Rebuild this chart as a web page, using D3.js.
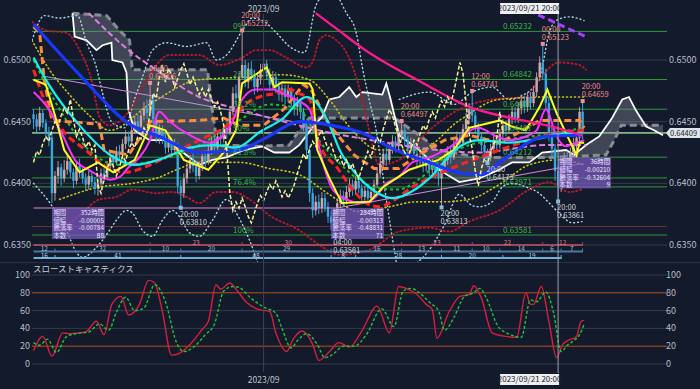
<!DOCTYPE html>
<html>
<head>
<meta charset="utf-8">
<script src="https://cdn.jsdelivr.net/npm/d3@7"></script>
<style>
  body { margin: 0; background: #121a2b; }
  svg { display: block; }
</style>
</head>
<body>
<div id="chart"></div>
<script>
// ---- candles (4h, AUD/USD style) ----
const firstOpen = 0.6456
const closes = [
  0.6452,0.6446,0.6457,0.6449,0.6441,0.6437,0.6392,0.6406,0.6413,0.6404,
  0.6411,0.6418,0.6409,0.6402,0.6414,0.6410,0.6404,0.6399,0.6406,0.6401,
  0.6396,0.6400,0.6408,0.6405,0.6414,0.6421,0.6417,0.6426,0.6423,0.6432,
  0.6438,0.6434,0.6443,0.6450,0.6446,0.6455,0.6461,0.6457,0.6468,0.6452,
  0.6438,0.6444,0.6437,0.6429,0.6434,0.6427,0.6431,0.6398,0.6392,0.6404,
  0.6412,0.6419,0.6414,0.6406,0.6413,0.6422,0.6418,0.6427,0.6433,0.6429,
  0.6438,0.6436,0.6445,0.6441,0.6458,0.6473,0.6469,0.6486,0.6496,0.6482,
  0.6493,0.6488,0.6478,0.6485,0.6492,0.6497,0.6489,0.6480,0.6486,0.6479,
  0.6472,0.6477,0.6470,0.6476,0.6468,0.6462,0.6466,0.6458,0.6447,0.6427,
  0.6392,0.6378,0.6385,0.6380,0.6388,0.6381,0.6373,0.6368,0.6376,0.6384,
  0.6390,0.6386,0.6393,0.6399,0.6395,0.6402,0.6396,0.6389,0.6394,0.6388,
  0.6393,0.6399,0.6408,0.6416,0.6424,0.6419,0.6428,0.6434,0.6430,0.6439,
  0.6443,0.6435,0.6428,0.6432,0.6424,0.6418,0.6422,0.6414,0.6419,0.6411,
  0.6416,0.6409,0.6404,0.6412,0.6419,0.6426,0.6421,0.6431,0.6437,0.6433,
  0.6444,0.6452,0.6460,0.6455,0.6446,0.6438,0.6431,0.6425,0.6421,0.6428,
  0.6435,0.6431,0.6440,0.6447,0.6443,0.6452,0.6458,0.6453,0.6461,0.6467,
  0.6462,0.6470,0.6465,0.6474,0.6486,0.6498,0.6489,0.6465,0.6440,0.6428,
  0.6410,0.6398,0.6412,0.6420,0.6416,0.6425,0.6432,0.6437,0.6458,0.64409
]
const highs = [
  0.6460,0.6456,0.6462,0.6460,0.6452,0.6446,0.6440,0.6410,0.6418,0.6416,
  0.6419,0.6424,0.6421,0.6412,0.6417,0.6420,0.6414,0.6408,0.6410,0.6409,
  0.6405,0.6403,0.6412,0.6413,0.6418,0.6425,0.6426,0.6430,0.6431,0.6436,
  0.6443,0.6442,0.6448,0.6455,0.6456,0.6460,0.6466,0.6468,0.64806,0.6471,
  0.6455,0.6448,0.6447,0.6440,0.6439,0.6437,0.6436,0.6433,0.6403,0.6408,
  0.6417,0.6423,0.6424,0.6418,0.6417,0.6426,0.6427,0.6431,0.6438,0.6438,
  0.6443,0.6444,0.6449,0.6450,0.6462,0.6478,0.6480,0.6490,0.65232,0.6500,
  0.6498,0.6499,0.6492,0.6490,0.6497,0.6502,0.6500,0.6493,0.6491,0.6490,
  0.6483,0.6481,0.6480,0.6480,0.6478,0.6472,0.6470,0.6468,0.6461,0.6450,
  0.6430,0.6396,0.6390,0.6391,0.6393,0.6392,0.6385,0.6378,0.6380,0.6388,
  0.6395,0.6394,0.6398,0.6404,0.6403,0.6406,0.6405,0.6399,0.6398,0.6397,
  0.6397,0.6403,0.6412,0.6421,0.6428,0.6429,0.6433,0.6439,0.6438,0.6443,
  0.64497,0.6446,0.6438,0.6437,0.6434,0.6428,0.6426,0.6424,0.6423,0.6421,
  0.6420,0.6419,0.6413,0.6416,0.6424,0.6430,0.6430,0.6435,0.6442,0.6441,
  0.6448,0.6457,0.6465,0.64741,0.6458,0.6449,0.6441,0.6434,0.6428,0.6432,
  0.6439,0.6439,0.6444,0.6452,0.6451,0.6456,0.6462,0.6462,0.6466,0.6472,
  0.6471,0.6474,0.6474,0.6479,0.6490,0.6503,0.65123,0.6493,0.6470,0.6445,
  0.6432,0.6415,0.6416,0.6425,0.6426,0.6429,0.6437,0.6441,0.6462,0.64659
]
const lows = [
  0.6444,0.6440,0.6443,0.6445,0.6436,0.6430,0.6384,0.6386,0.6400,0.6398,
  0.6401,0.6407,0.6404,0.6396,0.6399,0.6405,0.6400,0.6394,0.6395,0.6397,
  0.6391,0.6390,0.6397,0.6401,0.6403,0.6410,0.6412,0.6415,0.6418,0.6420,
  0.6428,0.6430,0.6431,0.6440,0.6441,0.6444,0.6451,0.6452,0.6455,0.6448,
  0.6433,0.6432,0.6432,0.6424,0.6425,0.6422,0.6423,0.6392,0.63810,0.6388,
  0.6400,0.6408,0.6409,0.6401,0.6403,0.6410,0.6413,0.6415,0.6423,0.6424,
  0.6426,0.6430,0.6433,0.6436,0.6439,0.6455,0.6463,0.6466,0.6484,0.6478,
  0.6477,0.6483,0.6472,0.6474,0.6480,0.6487,0.6484,0.6475,0.6476,0.6473,
  0.6467,0.6466,0.6464,0.6466,0.6462,0.6455,0.6455,0.6452,0.6442,0.6420,
  0.6385,0.6372,0.6374,0.6375,0.6376,0.6377,0.6368,0.6362,0.63581,0.6372,
  0.6380,0.6381,0.6383,0.6389,0.6390,0.6391,0.6392,0.6384,0.6385,0.6383,
  0.6384,0.6389,0.6396,0.6405,0.6413,0.6414,0.6417,0.6424,0.6425,0.6427,
  0.6434,0.6430,0.6423,0.6424,0.6419,0.6412,0.6413,0.6409,0.6410,0.6406,
  0.6407,0.6404,0.6398,0.63813,0.6408,0.6415,0.6416,0.6419,0.6427,0.6428,
  0.6431,0.6440,0.6448,0.6450,0.6441,0.6433,0.6426,0.6419,0.64173,0.6418,
  0.6424,0.6426,0.6428,0.6436,0.6438,0.6440,0.6448,0.6449,0.6449,0.6456,
  0.6457,0.6458,0.6460,0.6462,0.6470,0.6483,0.6484,0.6460,0.6434,0.6421,
  0.6402,0.63861,0.6393,0.6408,0.6411,0.6413,0.6421,0.6424,0.6433,0.6436
]

// ---- indicator lines, [bar index, price] ----
const maBlue = [[0,0.6529],[15,0.6488],[32,0.6447],[41,0.6438],[54,0.6425],[67,0.6427],[75,0.6436],[87,0.6450],[97,0.6447],[107,0.6441],[118,0.6427],[129,0.6417],[140,0.6408],[146,0.6407],[153,0.6419],[167,0.6438],[179,0.6439]]
const maCyan = [[0,0.6502],[5,0.6480],[15,0.6447],[25,0.6423],[33,0.6415],[43,0.6421],[51,0.6429],[59,0.6431],[66,0.6429],[74,0.6442],[81,0.6452],[89,0.6470],[92,0.6466],[96,0.6450],[100,0.6426],[105,0.6408],[111,0.6394],[117,0.6388],[125,0.6396],[129,0.6404],[139,0.6430],[145,0.6435],[155,0.6433],[166,0.6437],[171,0.6440],[179,0.6441]]
const tenkan = [[0,0.6484],[4,0.6480],[7,0.6455],[10,0.6427],[15,0.6409],[21,0.6417],[26,0.6409],[33,0.6419],[38,0.6447],[43,0.6443],[49,0.6419],[57,0.6411],[62,0.6425],[66,0.6443],[68,0.6481],[73.5,0.6490],[76,0.6494],[78.5,0.6478],[81,0.6482],[90,0.6481],[91,0.6476],[92.5,0.6427],[96.5,0.6404],[100.5,0.6384],[109.5,0.6385],[114,0.6397],[122.5,0.6411],[132,0.6419],[137,0.6427],[142,0.6445],[152,0.6451],[156,0.6446],[160.5,0.6443],[165,0.6462],[167.5,0.6476],[170.5,0.6457],[173.5,0.6441],[177,0.6423],[178,0.6433],[179.5,0.6433]]
const kijun = [[0,0.6527],[2,0.6522],[3.5,0.6484],[6,0.6451],[21.5,0.6448],[23,0.6427],[31,0.6423],[35.5,0.6440],[38,0.6450],[54,0.6451],[62,0.6453],[67,0.6447],[75,0.6447],[82,0.6461],[88,0.6480],[90.5,0.6476],[96.5,0.6447],[104.5,0.6423],[111,0.6412],[119,0.6412],[125.5,0.6423],[134,0.6435],[142,0.6439],[152,0.6433],[158,0.6441],[165,0.6451],[178,0.6451],[179.5,0.6445]]
const maMagenta = [[0,0.6474],[5,0.6460],[9.5,0.6439],[13.5,0.6419],[18,0.6411],[25,0.6403],[28,0.6405],[31,0.6413],[34.5,0.6421],[38,0.6435],[41,0.6458],[44,0.6451],[51,0.6439],[57,0.6433],[64,0.6446],[68,0.6468],[72.5,0.6476],[78,0.6476],[81,0.6473],[85.5,0.6468],[90,0.6460],[92.5,0.6435],[95,0.6411],[97.5,0.6395],[102,0.6387],[107,0.6384],[111.5,0.6389],[115,0.6400],[119,0.6405],[123.5,0.6417],[129,0.6421],[135.5,0.6429],[145,0.6445],[151,0.6438],[155,0.6435],[160.5,0.6438],[164,0.6443],[167,0.6460],[170.5,0.6438],[173.5,0.6430],[177,0.6433],[179.5,0.6435]]
const maRed = [[0,0.6492],[4,0.6465],[9.5,0.6443],[17,0.6427],[24,0.6413],[30,0.6409],[38,0.6415],[46,0.6425],[54,0.6435],[63,0.6447],[69.5,0.6465],[73.5,0.6470],[79,0.6473],[83.5,0.6476],[86.5,0.6473],[90,0.6468],[93,0.6433],[99.5,0.6411],[104,0.6395],[108.5,0.6384],[112.5,0.6381],[116,0.6384],[119,0.6389],[123.5,0.6397],[128,0.6403],[139,0.6415],[152,0.6427],[161.5,0.6435],[171,0.6441],[179.5,0.6443]]
const maGreen = [[0,0.6500],[8.5,0.6460],[18,0.6427],[28,0.6415],[41,0.6419],[54,0.6431],[67,0.6451],[77,0.6464],[86.5,0.6460],[93,0.6435],[99.5,0.6417],[106,0.6403],[112.5,0.6396],[119,0.6395],[125.5,0.6403],[132,0.6417],[142,0.6431],[152,0.6435],[165,0.6439],[179.5,0.6445]]
const maViolet = [[18,0.6538],[32,0.6506],[40,0.6492],[54,0.6470],[67,0.6460],[86.5,0.6447],[96.5,0.6441],[110.5,0.6435],[125,0.6429],[145,0.6425],[167,0.6431],[180,0.6431]]
const trendPink = [[92,0.6538],[99.5,0.6524],[107,0.6510],[116,0.6496],[125,0.6484],[133,0.6473],[142,0.6462],[152,0.6455],[161.5,0.6450],[170.5,0.6445],[179,0.6439]]
const trendPurple = [[158,0.6544],[180,0.6519]]
const trendLavender = [[3,0.6487],[87,0.6449]]
const supportLine = [[0,0.6380],[99,0.6380],[179,0.6416]]

// ichimoku leading spans
const spanA = [[12.7,0.6538],[13.4,0.6519],[17.3,0.6516],[20.5,0.6508],[22.5,0.6512],[25.4,0.6514],[25.7,0.6500],[29,0.6498],[30.3,0.6490],[30.9,0.6460],[32.9,0.6443],[37.8,0.6435],[44.3,0.6435],[47.6,0.6427],[54.1,0.6415],[58.3,0.6419],[62.9,0.6421],[68.7,0.6427],[74.6,0.6430],[78.5,0.6425],[83.4,0.6425],[86.6,0.6431],[91.5,0.6447],[94.1,0.6454],[96.4,0.6468],[99.7,0.6470],[102.9,0.6478],[105.2,0.6470],[107.2,0.6474],[113.7,0.6472],[115,0.6481],[116.3,0.6469],[119.2,0.6439],[125.7,0.6427],[132.2,0.6411],[138.8,0.6401],[145.3,0.6404],[151.8,0.6411],[156,0.6417],[161.6,0.6417],[165.8,0.6425],[173.6,0.6427],[176.2,0.6423],[180.1,0.6431],[184.4,0.6438],[188.6,0.6453],[191.9,0.6468],[194.1,0.6470],[196.4,0.6459],[199.7,0.6446],[202.3,0.6443],[205.2,0.6439]]
const spanB = [[12.7,0.6538],[23.8,0.6536],[28,0.6524],[31.3,0.6516],[32.2,0.6492],[56.7,0.6492],[58,0.6464],[59.9,0.6431],[73.6,0.6430],[83.4,0.6431],[86.6,0.6443],[89.9,0.6453],[117.6,0.6453],[125.7,0.6439],[132.2,0.6427],[145.3,0.6421],[158.3,0.6421],[168.1,0.6421],[186.6,0.6423],[189.3,0.6435],[191.6,0.6447],[205.2,0.6447]]

// band-style dotted lines
const bandBlueUpper = [[-0.5,0.6516],[3.6,0.6536],[8.5,0.6534],[14.3,0.6536],[17.3,0.6514],[20.5,0.6494],[22.5,0.6473],[25.7,0.6449],[29.6,0.6445],[32.9,0.6468],[35.5,0.6486],[38.8,0.6508],[43.3,0.6514],[49.8,0.6511],[56.4,0.6514],[59.6,0.6500],[62.9,0.6504],[68.1,0.6524],[71.3,0.6534],[74.6,0.6532],[79.2,0.6522],[83.4,0.6511],[88.3,0.6506],[92.2,0.6545],[97,0.6557],[102,0.6538],[105.2,0.6522],[107.2,0.6494],[109.4,0.6468],[111.7,0.6443],[115,0.6387],[117.6,0.6346],[119.2,0.6322]]
const bandBlueUpper2 = [[119.2,0.6468],[129,0.6474],[137.1,0.6464],[143,0.6474],[149.5,0.6478],[155,0.6468],[158.3,0.6470],[164.8,0.6484],[165.8,0.6494],[168.1,0.6522],[170.4,0.6532],[174.6,0.6535],[179.5,0.6532]]
const bandBlueLower = [[0,0.6400],[6.2,0.6381],[10.7,0.6362],[14,0.6344],[16,0.6340],[20.5,0.6348],[24.8,0.6362],[27,0.6370],[30.3,0.6378],[32.2,0.6376],[35.5,0.6362],[38.8,0.6357],[42,0.6370],[45.3,0.6378],[47.6,0.6373],[50.8,0.6360],[54,0.6357],[58.3,0.6370],[62.9,0.6387],[66.1,0.6376],[70.4,0.6354],[74.3,0.6330],[95,0.6300],[119.2,0.6326],[129,0.6346],[133.9,0.6366],[138.8,0.6391],[143,0.6382],[145.3,0.6381],[149.5,0.6385],[152.8,0.6397],[156,0.6400],[160.6,0.6397],[164.8,0.6392],[168.1,0.6384],[171.3,0.6376],[175.6,0.6368],[178.8,0.6369]]
const bandRedUpper = [[-0.5,0.6531],[4.2,0.6524],[10.7,0.6522],[15,0.6508],[19.2,0.6481],[21.5,0.6454],[24.8,0.6447],[31.3,0.6459],[37.8,0.6488],[44.3,0.6504],[54,0.6504],[60.6,0.6496],[68.1,0.6502],[72.6,0.6508],[76.9,0.6508],[82.4,0.6502],[88.9,0.6494],[90.9,0.6498],[93.2,0.6516],[95.4,0.6520],[98.7,0.6516],[102,0.6506],[105.2,0.6486],[107.2,0.6468],[109.4,0.6443],[112.7,0.6415],[119.2,0.6419],[129,0.6443],[138.8,0.6460],[149.5,0.6468],[160.6,0.6470],[164.8,0.6484],[171.3,0.6498],[177.9,0.6496],[180.1,0.6492]]
const bandRedLower = [[8.5,0.6362],[15,0.6374],[21.5,0.6387],[27,0.6389],[32.2,0.6395],[40,0.6392],[45.3,0.6393],[49.8,0.6389],[54,0.6384],[59.6,0.6393],[64.8,0.6393],[70.4,0.6387],[76.9,0.6374],[86.6,0.6362],[93.2,0.6350],[99.7,0.6342],[109.4,0.6346],[119.2,0.6361],[129,0.6364],[135.5,0.6361],[142,0.6369],[151.8,0.6378],[161.6,0.6395],[168.1,0.6401],[174.6,0.6393],[178.8,0.6395]]
const bandOliveUpper = [[-0.5,0.6516],[5.2,0.6492],[11.7,0.6472],[18.2,0.6455],[24.8,0.6443],[37.8,0.6464],[54,0.6484],[68.1,0.6486],[81.1,0.6488],[89.9,0.6484],[96.4,0.6468],[102.9,0.6446],[112.7,0.6427],[125.7,0.6427],[138.8,0.6451],[151.8,0.6468],[168.1,0.6470],[179.5,0.6470]]
const bandOliveLower = [[8.5,0.6387],[21.5,0.6397],[32.2,0.6400],[41,0.6405],[46.6,0.6411],[54,0.6417],[67.1,0.6417],[76.9,0.6412],[86.6,0.6407],[96.4,0.6391],[106.2,0.6377],[116,0.6381],[124.8,0.6385],[133.2,0.6385],[142,0.6387],[151.8,0.6399],[161.6,0.6415],[171.3,0.6419],[179.5,0.6415]]

// fibonacci levels
const fibLevels = [0.65232, 0.64842, 0.64601, 0.64407, 0.64212, 0.63971, 0.63581]
const fibNames = ["0%", "23.6%", "38.2%", "50%", "61.8%", "76.4%", "100%"]
const extraGreen = [0.64044]
const darkRedLevel = 0.6365
const lastPrice = 0.64409

// zigzag pivots
const pivotHighIdx = [38, 68, 120, 143, 166, 179]
const pivotHighTime = ["08:00", "20:00", "20:00", "12:00", "00:00", "20:00"]
const pivotLowIdx = [48, 98, 133, 148, 171]
const pivotLowTime = ["20:00", "04:00", "20:00", "20:00", "20:00"]

// wave count rows [start bar, end bar, label]
const waveRow1 = [[0,38,""],[38,68,"23"],[68,98,"30"],[98,120,""],[120,143,"23"],[143,166,"22"],[166,179,"12"]]
const waveRow2 = [[0,7,"12"],[7,38,"32"],[38,48,"10"],[48,68,"20"],[68,97,"29"],[97,104,""],[104,120,"16"],[120,133,"13"],[133,143,"11"],[143,152,"10"],[152,166,"14"],[166,172,"6"],[172,179,"7"]]
const waveRow3 = [[0,7,"16"],[7,48,"41"],[48,97,"48"],[97,105,"8"],[105,133,"28"],[133,153,"20"],[153,172,"19"]]

// measurement boxes
const boxIdx = [6, 97, 171]
const boxTop = [0.6380, 0.6380, 0.6421]
const boxKeys = ["期間", "値幅", "騰落率", "本数"]
const boxPeriod = ["352時間", "284時間", "36時間"]
const boxRange = ["-0.00005", "-0.00313", "-0.00210"]
const boxRate = ["-0.00784", "-0.48831", "-0.32604"]
const boxBars = ["88", "71", "9"]

// slow stochastics [bar index, value]
const stochK = [[0,15],[3,31],[6,9],[9.5,35],[11.5,34],[17,36],[20.5,48],[23,33],[25.5,67],[28.5,76],[31,55],[34.5,67],[37.5,94],[39.5,91],[42,59],[45,10],[47.5,12],[51,22],[55,39],[57,48],[59.5,89],[61,84],[64,91],[66,84],[69.5,69],[73.5,61],[77,59],[79,35],[82.5,14],[84.5,27],[87.5,37],[91,22],[93,4],[96.5,14],[99.5,24],[103,19],[107,37],[112,65],[116,35],[119,87],[121.5,85],[125,78],[128,67],[130,61],[131.5,29],[135.5,59],[139,76],[142,78],[143.5,88],[146,74],[149.5,35],[154,31],[157.5,30],[160.5,80],[162,67],[163,67],[165.5,87],[168,48],[170.5,7],[172.5,22],[174,26],[177,31],[178.5,48],[179.5,49]]
const stochD = [[0,24],[2,21],[4.5,28],[7.5,13],[10.5,30],[13.5,34],[18,36],[21.5,45],[24.5,38],[27,58],[30,75],[33,60],[36,63],[39.5,89],[43,70],[46.5,25],[49,14],[52.5,20],[56,33],[59,45],[62,82],[65,87],[67,86],[70.5,75],[75,64],[79,57],[81,40],[84,18],[86,26],[89,34],[92.5,22],[95,7],[98,12],[101,20],[104.5,20],[108.5,33],[113.5,62],[117.5,42],[120.5,82],[123,85],[126.5,78],[129.5,68],[132,60],[134,38],[137,52],[140.5,76],[143.5,80],[145.5,85],[147.5,75],[151.5,42],[155.5,33],[159,30],[162,72],[164,70],[167,81],[169.5,58],[172,14],[174,21],[176,26],[178,33],[179.5,45]]

const priceTicks = [0.635, 0.640, 0.645, 0.650]
const stochTicks = [0, 20, 40, 60, 80, 100]
const monthIdx = 75
const monthLabel = "2023/09"
const cursorIdx = 171
const cursorLabel = "2023/09/21 20:00"
const panelTitle = "スローストキャスティクス"

// ---------------------------------------------------------------
const W = 700, H = 389
const font = '"Noto Sans CJK JP", "Noto Sans", sans-serif'
const svg = d3.select("#chart").append("svg").attr("width", W).attr("height", H)
  .style("font-family", font)
svg.append("rect").attr("width", W).attr("height", H).attr("fill", "#121a2b")

const x = d3.scaleLinear().domain([-0.5, 206.5]).range([32, 667])
const y = d3.scaleLinear().domain([0.635, 0.650]).range([245, 60])
const ys = d3.scaleLinear().domain([0, 100]).range([364, 275])

const defs = svg.append("defs")
defs.append("clipPath").attr("id", "clipMain").append("rect")
  .attr("x", 32).attr("y", 0).attr("width", 635).attr("height", 262)
defs.append("clipPath").attr("id", "clipSub").append("rect")
  .attr("x", 32).attr("y", 263).attr("width", 635).attr("height", 108)

const g = svg.append("g").attr("clip-path", "url(#clipMain)")
const gs = svg.append("g").attr("clip-path", "url(#clipSub)")

// grid
priceTicks.forEach(p => {
  g.append("line").attr("x1", 32).attr("x2", 667).attr("y1", y(p)).attr("y2", y(p))
    .attr("stroke", "#343c4d").attr("stroke-width", 1)
})
svg.append("line").attr("x1", 0).attr("x2", W).attr("y1", 262.5).attr("y2", 262.5)
  .attr("stroke", "#2b3343")
svg.append("line").attr("x1", x(monthIdx)).attr("x2", x(monthIdx)).attr("y1", 14).attr("y2", 372)
  .attr("stroke", "#3a4254")

// horizontal levels
fibLevels.concat(extraGreen).forEach(p => {
  g.append("line").attr("x1", 32).attr("x2", 667).attr("y1", y(p)).attr("y2", y(p))
    .attr("stroke", "#2f9a3a").attr("stroke-width", 1)
})
g.append("line").attr("x1", 32).attr("x2", 667).attr("y1", y(darkRedLevel)).attr("y2", y(darkRedLevel))
  .attr("stroke", "#6a2c36")
g.append("line").attr("x1", 32).attr("x2", 667).attr("y1", y(lastPrice)).attr("y2", y(lastPrice))
  .attr("stroke", "#cfe8c8").attr("stroke-width", 1)

const pline = (curve) => d3.line().x(d => x(d[0])).y(d => y(d[1])).curve(curve || d3.curveMonotoneX)

function drawLine(target, data, color, width, dash, curve) {
  const p = target.append("path").datum(data)
    .attr("fill", "none").attr("stroke", color).attr("stroke-width", width)
    .attr("d", pline(curve))
  if (dash) p.attr("stroke-dasharray", dash)
  if (dash === "1,3") p.attr("stroke-linecap", "round")
  return p
}

// cloud
const cloudPts = spanA.concat(spanB.slice().reverse())
g.append("path").attr("d", pline(d3.curveLinear)(cloudPts) + "Z")
  .attr("fill", "#8b8f9a").attr("opacity", 0.38)
drawLine(g, spanB, "#8a8c94", 3, "7,4", d3.curveLinear)
drawLine(g, spanA, "#ffffff", 1.8, null, d3.curveLinear)

// dotted bands
drawLine(g, bandBlueUpper, "#a8d4e6", 1.4, "1,3")
drawLine(g, bandBlueUpper2, "#a8d4e6", 1.4, "1,3")
drawLine(g, bandBlueLower, "#a8d4e6", 1.4, "1,3")
drawLine(g, bandRedUpper, "#b01a2c", 2, "1,3")
drawLine(g, bandRedLower, "#b01a2c", 2, "1,3")
drawLine(g, bandOliveUpper, "#c8c21a", 1.6, "1,3")
drawLine(g, bandOliveLower, "#c8c21a", 1.6, "1,3")

// candles
const opens = closes.map((c, i) => i === 0 ? firstOpen : closes[i - 1])
const candle = g.selectAll(".candle").data(closes).enter().append("g").attr("class", "candle")
candle.append("line")
  .attr("x1", (d, i) => x(i)).attr("x2", (d, i) => x(i))
  .attr("y1", (d, i) => y(highs[i])).attr("y2", (d, i) => y(lows[i]))
  .attr("stroke", (d, i) => d < opens[i] ? "#3aa6dc" : "#b89898").attr("stroke-width", 1)
candle.append("rect")
  .attr("x", (d, i) => x(i) - 1.2).attr("width", 2.4)
  .attr("y", (d, i) => y(Math.max(d, opens[i])))
  .attr("height", (d, i) => Math.max(1, Math.abs(y(d) - y(opens[i]))))
  .attr("fill", (d, i) => d < opens[i] ? "#3aa6dc" : "#c9a8a8")

// trend lines and moving averages
drawLine(g, supportLine, "#d88ad8", 1, null, d3.curveLinear)
drawLine(g, trendLavender, "#c890d8", 1, null, d3.curveLinear)
drawLine(g, maViolet, "#e07ee0", 2, "6,3")
drawLine(g, maGreen, "#20c030", 2, "3,3")
drawLine(g, kijun, "#ff8c3a", 3, "7,4", d3.curveLinear)
drawLine(g, maRed, "#ff2424", 3, "7,4")
drawLine(g, maMagenta, "#ff30ff", 2)
drawLine(g, tenkan, "#ffff1e", 2, null, d3.curveLinear)
drawLine(g, maCyan, "#18f0f0", 2.2)
drawLine(g, maBlue, "#1838ff", 3.2)
drawLine(g, trendPink, "#ff1a8c", 2.4)
drawLine(g, trendPurple, "#a040ff", 3, "7,4", d3.curveLinear)

// lagging span: close plotted 26 bars back
const chikou = closes.map((c, i) => [i - 26, c]).filter(d => d[0] >= 0)
drawLine(g, chikou, "#f4f09a", 1.5, "4,2", d3.curveLinear)

// fib labels
fibLevels.forEach((p, i) => {
  g.append("text").attr("x", 233).attr("y", y(p) - 2).text(fibNames[i])
    .attr("fill", "#3cb44a").attr("font-size", 8)
  g.append("text").attr("x", 503).attr("y", y(p) - 2).text(p.toFixed(5))
    .attr("fill", "#3cb44a").attr("font-size", 8)
})

// wave count rows
function waveRow(rows, rowY, lineColor, textColor) {
  rows.forEach(r => {
    const x0 = Math.max(32, x(r[0])), x1 = x(r[1])
    g.append("line").attr("x1", x0).attr("x2", x1).attr("y1", rowY).attr("y2", rowY)
      .attr("stroke", lineColor).attr("stroke-width", 2)
    g.append("line").attr("x1", x1).attr("x2", x1).attr("y1", rowY - 3).attr("y2", rowY + 1)
      .attr("stroke", lineColor).attr("stroke-width", 1)
    if (r[2]) g.append("text").attr("x", (x0 + x1) / 2).attr("y", rowY - 0.5)
      .attr("text-anchor", "middle").attr("font-size", 6.5).attr("fill", textColor).text(r[2])
  })
}
waveRow(waveRow1, 245, "#9c4a5a", "#e07a88")
waveRow(waveRow2, 251.5, "#4c77a0", "#a6bcd4")
waveRow(waveRow3, 258, "#6fb0d8", "#b0d6ee")

// pivot markers and labels
pivotHighIdx.forEach((idx, k) => {
  const px = x(idx), py = y(highs[idx])
  g.append("rect").attr("x", px - 2).attr("y", py - 3).attr("width", 4).attr("height", 4).attr("fill", "#f09090")
  g.append("text").attr("x", px - 1).attr("y", py - 13).text(pivotHighTime[k])
    .attr("fill", "#f08c8c").attr("font-size", 7.5)
  g.append("text").attr("x", px - 1).attr("y", py - 5).text(highs[idx].toFixed(5))
    .attr("fill", "#f08c8c").attr("font-size", 7.5)
})
pivotLowIdx.forEach((idx, k) => {
  const px = x(idx), py = y(lows[idx])
  g.append("rect").attr("x", px - 2).attr("y", py - 1).attr("width", 4).attr("height", 4).attr("fill", "#7cc4e8")
  g.append("text").attr("x", px - 1).attr("y", py + 10).text(pivotLowTime[k])
    .attr("fill", "#d0d4dc").attr("font-size", 7.5)
  g.append("text").attr("x", px - 1).attr("y", py + 18).text(lows[idx].toFixed(5))
    .attr("fill", "#d0d4dc").attr("font-size", 7.5)
})

// measurement boxes
boxIdx.forEach((idx, k) => {
  const bx = x(idx), by = y(boxTop[k])
  const box = g.append("g").attr("transform", `translate(${bx},${by})`)
  box.append("rect").attr("width", 53).attr("height", 31).attr("fill", "#7a5cc0").attr("opacity", 0.72)
  const vals = [boxPeriod[k], boxRange[k], boxRate[k], boxBars[k]]
  boxKeys.forEach((key, r) => {
    box.append("text").attr("x", 1.5).attr("y", 7 + r * 7.6).text(key)
      .attr("fill", "#e6dcff").attr("font-size", 6.4)
    box.append("text").attr("x", 52).attr("y", 7 + r * 7.6).text(vals[r])
      .attr("text-anchor", "end").attr("fill", "#f2eeff").attr("font-size", 6.4)
  })
})

// price axes
priceTicks.forEach(p => {
  svg.append("text").attr("x", 31).attr("y", y(p) + 3).attr("text-anchor", "end")
    .attr("fill", "#b8bdc8").attr("font-size", 9).text(p.toFixed(4))
  svg.append("text").attr("x", 669).attr("y", y(p) + 3)
    .attr("fill", "#b8bdc8").attr("font-size", 9).text(p.toFixed(4))
})
// last price tag
const lp = y(lastPrice)
svg.append("path").attr("d", `M666,${lp} L670,${lp - 5} L700,${lp - 5} L700,${lp + 5} L670,${lp + 5} Z`)
  .attr("fill", "#dfe3ea")
svg.append("text").attr("x", 670).attr("y", lp + 3).attr("font-size", 7.5)
  .attr("fill", "#1a1f2a").text(lastPrice.toFixed(5))

// ---- stochastics panel ----
stochTicks.forEach(v => {
  gs.append("line").attr("x1", 32).attr("x2", 667).attr("y1", ys(v)).attr("y2", ys(v))
    .attr("stroke", v === 20 || v === 80 ? "#b4531e" : "#333b4c").attr("stroke-width", 1)
  svg.append("text").attr("x", 30).attr("y", ys(v) + 3).attr("text-anchor", "end")
    .attr("fill", "#b8bdc8").attr("font-size", 9).text(v)
  svg.append("text").attr("x", 666).attr("y", ys(v) + 3)
    .attr("fill", "#b8bdc8").attr("font-size", 9).text(v)
})
const sline = d3.line().x(d => x(d[0])).y(d => ys(d[1])).curve(d3.curveMonotoneX)
gs.append("path").datum(stochK).attr("fill", "none").attr("stroke", "#d4203c")
  .attr("stroke-width", 1.4).attr("d", sline)
gs.append("path").datum(stochD).attr("fill", "none").attr("stroke", "#22c03c")
  .attr("stroke-width", 1.4).attr("stroke-dasharray", "3,2").attr("d", sline)
svg.append("text").attr("x", 33).attr("y", 272).attr("font-size", 8.5)
  .attr("fill", "#c8ccd4").text(panelTitle)

// crosshair and time labels
svg.append("line").attr("x1", x(cursorIdx)).attr("x2", x(cursorIdx)).attr("y1", 14).attr("y2", 373)
  .attr("stroke", "#9aa0ad").attr("stroke-width", 1)
const cx = x(cursorIdx)
;[[3, 14], [374, 385]].forEach(([t, b]) => {
  svg.append("rect").attr("x", cx - 58).attr("y", t).attr("width", 59).attr("height", b - t)
    .attr("fill", "#eef0f3")
  svg.append("text").attr("x", cx - 28.5).attr("y", b - 3).attr("text-anchor", "middle")
    .attr("font-size", 8).attr("fill", "#1c2230").text(cursorLabel)
})
svg.append("text").attr("x", x(monthIdx)).attr("y", 12).attr("text-anchor", "middle")
  .attr("font-size", 8.5).attr("fill", "#c0c4cc").text(monthLabel)
svg.append("text").attr("x", x(monthIdx)).attr("y", 383).attr("text-anchor", "middle")
  .attr("font-size", 8.5).attr("fill", "#c0c4cc").text(monthLabel)
</script>
</body>
</html>
